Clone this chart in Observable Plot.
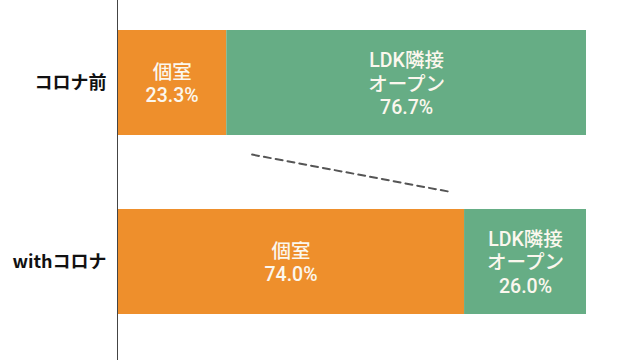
<!DOCTYPE html>
<html><head><meta charset="utf-8">
<script src="https://cdn.jsdelivr.net/npm/d3@7"></script>
<script src="https://cdn.jsdelivr.net/npm/@observablehq/plot@0.6"></script>
<style>
html,body{margin:0;padding:0;background:#fff;}
</style>
</head><body>
<div id="chart"></div>
<script>
const categories = ["コロナ前", "withコロナ"];
const seriesNames = ["個室", "LDK隣接\nオープン"];
const privateRoom = [23.3, 74.0];
const ldkOpen = [76.7, 26.0];
const dashX = [28.7, 70.5];
const dashY = [0.40, 0.606];

const colors = {"個室": "#ee8f2c", "LDK隣接\nオープン": "#66ad85"};
const half = 0.2933;

const rows = [];
categories.forEach((c, i) => {
  const vals = [privateRoom[i], ldkOpen[i]];
  let acc = 0;
  vals.forEach((v, j) => {
    rows.push({cat: c, i, series: seriesNames[j], x1: acc, x2: acc + v, y1: i - half, y2: i + half,
      label: seriesNames[j] + "\n" + v.toFixed(1) + "%"});
    acc += v;
  });
});
const dash = dashX.map((x, k) => ({x, y: dashY[k]}));

const chart = Plot.plot({
  width: 640,
  height: 360,
  marginLeft: 117,
  marginRight: 54,
  marginTop: 0,
  marginBottom: 0,
  style: {fontFamily: "Roboto, 'Noto Sans CJK JP', sans-serif", background: "transparent"},
  x: {domain: [0, 100], axis: null},
  y: {domain: [-0.4609, 1.5503], reverse: true, axis: null},
  marks: [
    Plot.rect(rows, {x1: "x1", x2: "x2", y1: "y1", y2: "y2", fill: d => colors[d.series]}),
    Plot.text(rows, {x: d => (d.x1 + d.x2) / 2, y: "i", text: "label", fill: "#fbf7ee",
      fontSize: 19.5, fontWeight: 500, lineHeight: 1.2, textAnchor: "middle", lineAnchor: "middle"}),
    Plot.line(dash, {x: "x", y: "y", stroke: "#555", strokeWidth: 2, strokeDasharray: "7,5"}),
    Plot.ruleX([0], {stroke: "#444", strokeWidth: 1}),
    Plot.axisY([0, 1], {tickFormat: i => categories[i], tickSize: 0, tickPadding: 11,
      fontSize: 18, fontWeight: "bold", fill: "#111", label: null,
      fontFamily: "'Noto Sans CJK JP', sans-serif"})
  ]
});
document.getElementById("chart").appendChild(chart);
</script>
</body></html>
